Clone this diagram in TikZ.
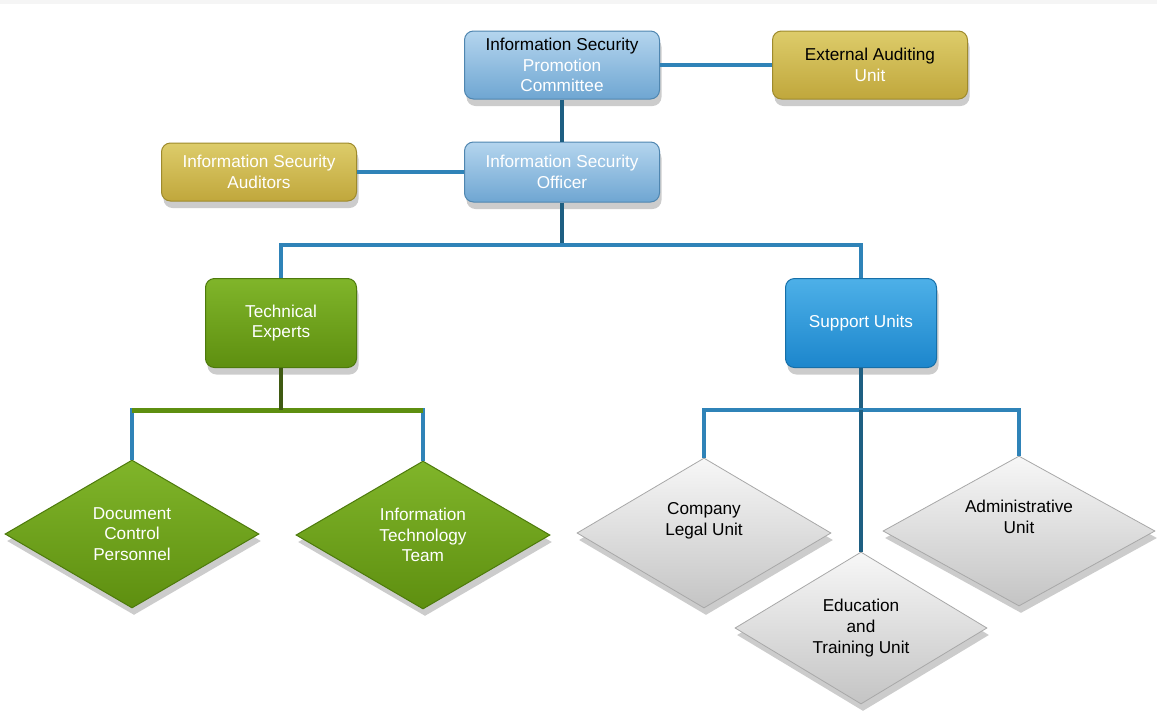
\documentclass[tikz,border=0pt]{standalone}
\usepackage{fontspec}
\setmainfont{Liberation Sans}
\usetikzlibrary{shapes.geometric,shadows}
\definecolor{lineblue}{HTML}{2F83B8}
\definecolor{linedark}{HTML}{1E5F82}
\definecolor{lbTop}{HTML}{B4D5EE}
\definecolor{lbBot}{HTML}{6FA6D2}
\definecolor{lbBorder}{HTML}{4F86B0}
\definecolor{goldTop}{HTML}{DDCC6A}
\definecolor{goldBot}{HTML}{C0A73C}
\definecolor{goldBorder}{HTML}{9E8A2C}
\definecolor{grTop}{HTML}{80B52A}
\definecolor{grBot}{HTML}{5E8F10}
\definecolor{grBorder}{HTML}{4D7A0C}
\definecolor{sbTop}{HTML}{4DB0E8}
\definecolor{sbBot}{HTML}{1C86CC}
\definecolor{sbBorder}{HTML}{166FA8}
\definecolor{gyTop}{HTML}{F7F7F7}
\definecolor{gyBot}{HTML}{C4C4C4}
\definecolor{gyBorder}{HTML}{A8A8A8}
\definecolor{olivedark}{HTML}{3F5A12}
\begin{document}
\begin{tikzpicture}[x=1pt,y=-1pt,
  every node/.style={font=\fontsize{17.2}{20.8}\selectfont, align=center, inner sep=0pt},
  shad/.style={drop shadow={opacity=0.4, shadow xshift=2pt, shadow yshift=-7pt}},
  box/.style={rectangle, rounded corners=9pt, minimum width=195pt, minimum height=68pt, line width=1pt, shad},
  lbbox/.style={box, top color=lbTop, bottom color=lbBot, draw=lbBorder, text=white},
  goldbox/.style={box, top color=goldTop, bottom color=goldBot, draw=goldBorder, text=white},
  grbox/.style={box, minimum width=151pt, minimum height=89pt, top color=grTop, bottom color=grBot, draw=grBorder, text=white},
  sbbox/.style={box, minimum width=151pt, minimum height=89pt, top color=sbTop, bottom color=sbBot, draw=sbBorder, text=white},
  grdia/.style={diamond, aspect=1.75, minimum width=254pt, minimum height=148pt, top color=grTop, bottom color=grBot, draw=grBorder, line width=1pt, text=white, shad},
  gydia/.style={diamond, aspect=1.75, minimum width=254pt, minimum height=150pt, top color=gyTop, bottom color=gyBot, draw=gyBorder, line width=0.8pt, text=black, shad},
  conn/.style={draw=lineblue, line width=3.5pt},
  conndark/.style={draw=linedark, line width=3.5pt},
  greenbar/.style={draw=grBot, line width=5pt},
]
\useasboundingbox (0,0) rectangle (1157,713);
\fill[white] (0,0) rectangle (1157,713);
\fill[black!4] (0,0) rectangle (1157,4);

% boxes
\node[lbbox] (ispc) at (562,65) {{\color{black}Information Security}\\Promotion\\Committee};
\node[goldbox] (ext) at (870,65) {{\color{black}External Auditing}\\Unit};
\node[lbbox, minimum height=60pt] (iso) at (562,172) {Information Security\\Officer};
\node[goldbox, minimum height=58pt] (isa) at (259,172) {Information Security\\Auditors};
\node[grbox] (tech) at (281,323) {Technical\\Experts};
\node[sbbox] (sup) at (861,323) {Support Units};

% diamonds
\node[grdia] (dc) at (132,534) {Document\\Control\\Personnel};
\node[grdia] (it) at (423,535) {Information\\Technology\\Team};
\node[gydia] (legal) at (704,533) {Company\\Legal Unit\\[8pt]};
\node[gydia, minimum width=252pt, minimum height=152pt] (edu) at (861,628) {Education\\and\\Training Unit};
\node[gydia, minimum width=272pt] (admin) at (1019,531) {Administrative\\Unit\\[8pt]};

% junctions
\coordinate (j1) at (562,245);
\coordinate (j2) at (281,410);
\coordinate (j3) at (861,410);

% connectors
\draw[conn] (ispc.east) -- (ext.west);
\draw[conndark] (ispc.south) -- (iso.north);
\draw[conn] (isa.east) -- (iso.west);
\draw[conndark] (iso.south) -- (j1);
\draw[conn] (tech.north) |- (j1) -| (sup.north);
\draw[conn] (dc.north) |- (j2) -| (it.north);
\draw[greenbar] (dc.north |- j2) -- (it.north |- j2);
\draw[draw=olivedark, line width=3.5pt] (tech.south) -- (j2);
\draw[conndark] (sup.south) -- (j3);
\draw[conn] (legal.north) |- (j3) -| (admin.north);
\draw[conndark] (j3) -- (edu.north);
\end{tikzpicture}
\end{document}
